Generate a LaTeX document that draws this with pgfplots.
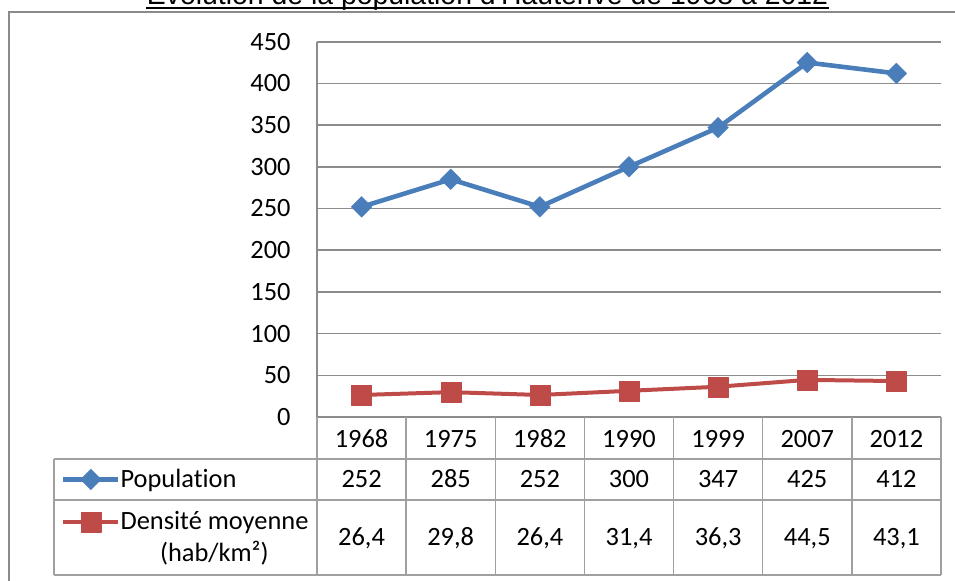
\documentclass[border=0pt]{standalone}
\usepackage{fontspec}
\setmainfont{Carlito}[Ligatures=NoCommon]
\newfontfamily\titlefont{Liberation Sans}
\usepackage{pgfplots}
\pgfplotsset{compat=1.18}
\definecolor{serblue}{HTML}{4A7EBB}
\definecolor{serred}{HTML}{BE4B48}
\definecolor{gridgray}{HTML}{8C8C8C}
\definecolor{tabgray}{HTML}{A0A0A0}
\definecolor{framegray}{HTML}{8A8A8A}
\newcommand{\chartfont}{\fontsize{13.2}{15.8}\selectfont}
\begin{document}
\begin{tikzpicture}[x=1pt,y=1pt]
\useasboundingbox (0,0) rectangle (477.5,290);
\clip (0,0) rectangle (477.5,290);
% title (cut at the top as in the reference)
\node[anchor=base, inner sep=0pt, font=\titlefont\fontsize{14.2}{17}\selectfont] (t) at (243.75,287.75) {Évolution de la population d'Hauterive de 1968 à 2012};
\draw[black, line width=0.8pt] ([yshift=-1.75pt]t.base west) -- ([yshift=-1.75pt]t.base east);
% chart frame
\draw[framegray, line width=1pt] (4.5,-5) -- (4.5,284) -- (495,284);
\begin{axis}[
  at={(158.5pt,81.5pt)}, anchor=south west,
  scale only axis, width=312pt, height=187.65pt,
  xmin=-0.5, xmax=6.5, ymin=0, ymax=450,
  ytick={0,50,...,450},
  xtick={0,...,6}, xticklabels={1968,1975,1982,1990,1999,2007,2012},
  major tick length=0pt,
  axis x line*=bottom, axis y line*=left,
  axis line style={gridgray, line width=0.8pt},
  ymajorgrids, grid style={gridgray, line width=0.8pt},
  tick label style={font=\chartfont, text=black},
  /pgf/number format/assume math mode=true,
  yticklabel style={anchor=east, inner sep=0pt, xshift=-13pt},
  xticklabel style={anchor=base, inner sep=0pt, yshift=-15.15pt},
  clip=false,
  legend cell align=left,
  legend image code/.code={\draw[mark repeat=2,mark phase=2,#1] plot coordinates {(0pt,0pt)(13.75pt,0pt)(27.5pt,0pt)};},
  legend style={at={(axis description cs:-0.41026,-0.22249)}, anchor=west,
    draw=none, fill=none, inner sep=0pt, outer sep=0pt,
    nodes={inner sep=0pt, font=\chartfont},
    row sep=10.5pt, column sep=0pt},
]
\addplot[serblue, line width=2.3pt, line join=round,
  mark=square*, mark size=3.7pt,
  mark options={rotate=45, solid, fill=serblue, draw=serblue, line width=0.1pt}]
  coordinates {(0,252) (1,285) (2,252) (3,300) (4,347) (5,425) (6,412)};
\addlegendentry{Population}
\addplot[serred, line width=2pt, line join=round,
  mark=square*, mark size=5pt,
  mark options={solid, fill=serred, draw=serred, line width=0.1pt}]
  coordinates {(0,26.4) (1,29.8) (2,26.4) (3,31.4) (4,36.3) (5,44.5) (6,43.1)};
\addlegendentry{Densité moyenne}
\end{axis}
% data table grid
\begin{scope}[tabgray, line width=0.75pt]
\foreach \k in {0,...,7} {\draw (158.5+44.5714*\k,2.5) -- (158.5+44.5714*\k,81.5);}
\draw (27,60.5) -- (470.5,60.5);
\draw (27,40) -- (470.5,40);
\draw (27,2.5) -- (470.5,2.5);
\draw (27,2.5) -- (27,60.5);
\end{scope}
% data table values
\foreach \v [count=\i from 0] in {252,285,252,300,347,425,412}
  {\node[anchor=base, inner sep=0pt, font=\chartfont] at (180.79+44.5714*\i,46.25) {\v};}
\foreach \v [count=\i from 0] in {{26,4},{29,8},{26,4},{31,4},{36,3},{44,5},{43,1}}
  {\node[anchor=base, inner sep=0pt, font=\chartfont] at (180.79+44.5714*\i,17.3) {\v};}
\node[anchor=base, inner sep=0pt, font=\chartfont] at (107.15,9.15) {(hab/km²)};
\end{tikzpicture}
\end{document}
